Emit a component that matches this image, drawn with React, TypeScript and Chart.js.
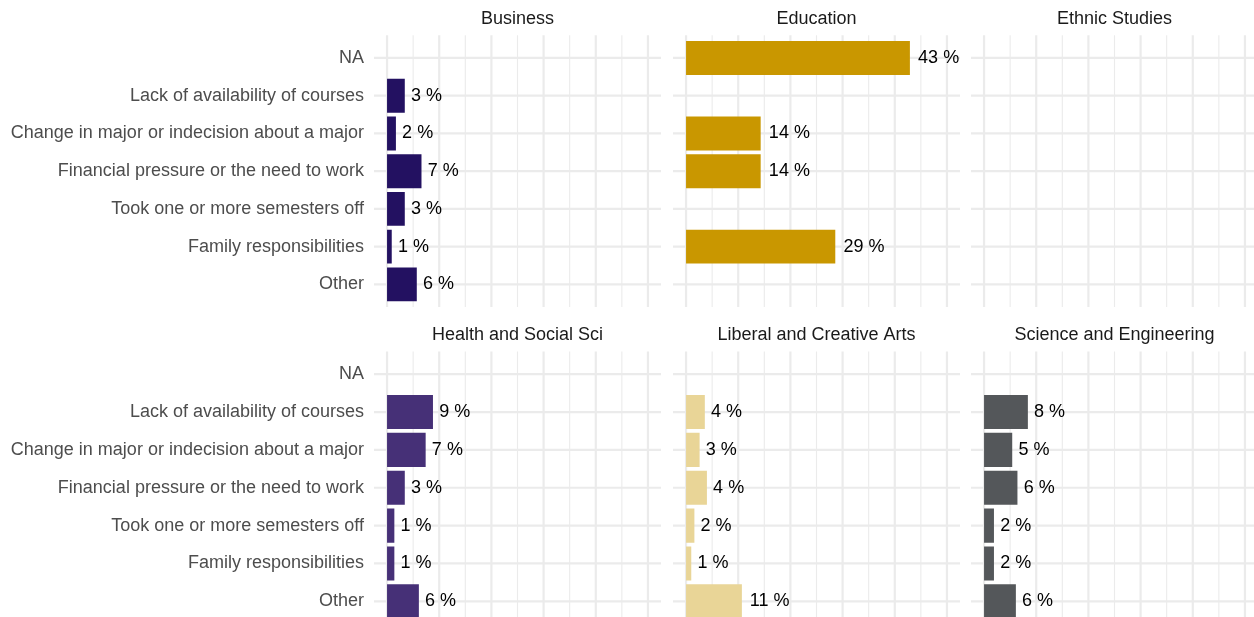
import { useEffect, useRef } from "react";
import { Chart, registerables } from "chart.js";

Chart.register(...registerables);

const FONT = "'Liberation Sans', Arial, Helvetica, sans-serif";

// ---------------- data ----------------
const categories = [
  "NA",
  "Lack of availability of courses",
  "Change in major or indecision about a major",
  "Financial pressure or the need to work",
  "Took one or more semesters off",
  "Family responsibilities",
  "Other",
];

const facetNames = [
  "Business",
  "Education",
  "Ethnic Studies",
  "Health and Social Sci",
  "Liberal and Creative Arts",
  "Science and Engineering",
];

// percent per category (null = no bar)
const businessValues = [null, 3.4, 1.7, 6.6, 3.4, 0.9, 5.7];
const educationValues = [42.9, null, 14.3, 14.3, null, 28.6, null];
const ethnicValues = [null, null, null, null, null, null, null];
const healthValues = [null, 8.8, 7.4, 3.4, 1.4, 1.4, 6.1];
const liberalValues = [null, 3.6, 2.6, 4.0, 1.6, 1.0, 10.7];
const scienceValues = [null, 8.4, 5.4, 6.4, 1.9, 1.9, 6.1];

const facetValues = [
  businessValues,
  educationValues,
  ethnicValues,
  healthValues,
  liberalValues,
  scienceValues,
];

const facetColors = ["#231161", "#C99700", "#888888", "#463077", "#E9D597", "#54575A"];

const xMajorBreaks = [0, 10, 20, 30, 40, 50];
const xMinorBreaks = [5, 15, 25, 35, 45];
const xLimits = [0, 50];

// ---------------- layout ----------------
const colLeft = [0, 673, 971];
const colWidth = [661, 287, 287];
const colPadLeft = [374, 0, 0];
const rowTop = [0, 316];
const rowHeight = [307, 308];
const rowPadTop = [35.3, 35.5];

const GRID = "#EBEBEB";

const facetDecor = {
  id: "facetDecor",
  beforeDatasetsDraw(chart: any) {
    const ctx = chart.ctx as CanvasRenderingContext2D;
    const area = chart.chartArea;
    const xs = chart.scales.x;
    const ys = chart.scales.y;
    ctx.save();
    ctx.strokeStyle = GRID;
    // minor vertical
    ctx.lineWidth = 1.1;
    xMinorBreaks.forEach((v) => {
      const px = xs.getPixelForValue(v);
      ctx.beginPath();
      ctx.moveTo(px, area.top);
      ctx.lineTo(px, area.bottom);
      ctx.stroke();
    });
    // major vertical
    ctx.lineWidth = 2.2;
    xMajorBreaks.forEach((v) => {
      const px = xs.getPixelForValue(v);
      ctx.beginPath();
      ctx.moveTo(px, area.top);
      ctx.lineTo(px, area.bottom);
      ctx.stroke();
    });
    // horizontal (categories)
    categories.forEach((_, i) => {
      const py = ys.getPixelForValue(i);
      ctx.beginPath();
      ctx.moveTo(area.left, py);
      ctx.lineTo(area.right, py);
      ctx.stroke();
    });
    ctx.restore();
  },
  afterDatasetsDraw(chart: any, _args: any, opts: any) {
    const ctx = chart.ctx as CanvasRenderingContext2D;
    const area = chart.chartArea;
    const ys = chart.scales.y;
    ctx.save();
    ctx.font = `18px ${FONT}`;
    ctx.textBaseline = "middle";
    // value labels (hjust = -0.2)
    ctx.textAlign = "left";
    ctx.fillStyle = "#000000";
    chart.data.datasets.forEach((ds: any, di: number) => {
      const meta = chart.getDatasetMeta(di);
      meta.data.forEach((el: any, i: number) => {
        const raw = ds.data[i];
        const label = `${Math.round(raw.x)} %`;
        const w = ctx.measureText(label).width;
        ctx.fillText(label, el.x + 0.2 * w, el.y);
      });
    });
    // facet strip title
    ctx.fillStyle = "#1A1A1A";
    ctx.textAlign = "center";
    ctx.fillText(opts.title, (area.left + area.right) / 2, area.top - 16);
    // category axis labels
    if (opts.showLabels) {
      ctx.fillStyle = "#4D4D4D";
      ctx.textAlign = "right";
      categories.forEach((c, i) => {
        ctx.fillText(c, area.left - 10, ys.getPixelForValue(i));
      });
    }
    ctx.restore();
  },
};

function Panel({ index }: { index: number }) {
  const ref = useRef<HTMLCanvasElement | null>(null);
  const col = index % 3;
  const row = Math.floor(index / 3);
  const width = colWidth[col];
  const height = rowHeight[row];

  useEffect(() => {
    if (!ref.current) return;
    const values = facetValues[index];
    const points = values
      .map((v, i) => (v === null ? null : { x: v, y: i }))
      .filter((p) => p !== null);
    const span = xLimits[1] - xLimits[0];
    const chart = new Chart(ref.current, {
      type: "bar",
      data: {
        datasets: [
          {
            data: points as any,
            backgroundColor: facetColors[index],
            borderWidth: 0,
            categoryPercentage: 0.9,
            barPercentage: 1,
          },
        ],
      },
      plugins: [facetDecor],
      options: {
        indexAxis: "y",
        responsive: false,
        animation: false,
        devicePixelRatio: 1,
        layout: {
          padding: { top: rowPadTop[row], left: colPadLeft[col], right: 0, bottom: 0 },
        },
        plugins: {
          legend: { display: false },
          tooltip: { enabled: false },
          title: { display: false },
          facetDecor: { title: facetNames[index], showLabels: col === 0 },
        } as any,
        scales: {
          x: {
            type: "linear",
            display: false,
            offset: false,
            min: xLimits[0] - span * 0.05,
            max: xLimits[1] + span * 0.05,
            bounds: "data",
          },
          y: {
            type: "linear",
            display: false,
            offset: false,
            reverse: true,
            min: -0.6,
            max: categories.length - 1 + 0.6,
            bounds: "data",
            afterBuildTicks: (scale: any) => {
              scale.ticks = categories.map((_, i) => ({ value: i }));
            },
            grid: { offset: false },
          },
        },
      },
    });
    return () => chart.destroy();
  }, [index]);

  return (
    <canvas
      ref={ref}
      width={width}
      height={height}
      style={{
        position: "absolute",
        left: colLeft[col],
        top: rowTop[row],
        width,
        height,
      }}
    />
  );
}

export default function App() {
  return (
    <div
      style={{
        position: "fixed",
        left: 0,
        top: 0,
        width: 1254,
        height: 617,
        overflow: "hidden",
        background: "#FFFFFF",
      }}
    >
      {facetNames.map((_, i) => (
        <Panel key={i} index={i} />
      ))}
    </div>
  );
}
